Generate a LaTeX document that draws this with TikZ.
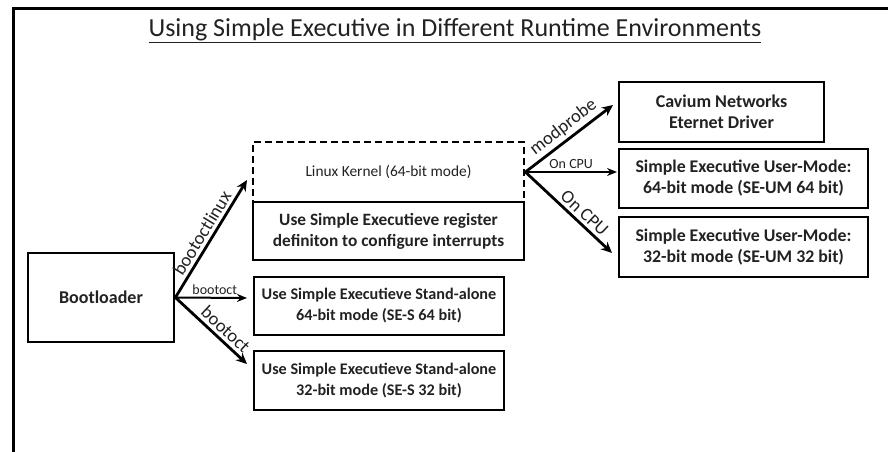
\documentclass[tikz,border=0pt]{standalone}
\usepackage{fontspec}
\setmainfont{Carlito}
\usetikzlibrary{arrows.meta}
\definecolor{ink}{HTML}{222222}
\tikzset{
  box/.style={draw=black, line width=2.8pt, inner sep=2pt, align=center, font=\fontsize{17}{21}\selectfont\bfseries, text=ink},
  conn/.style={line width=2.8pt, -{Stealth[length=11pt,width=10pt]}, black},
  thin/.style={line width=2pt, -{Stealth[length=10pt,width=8pt]}, black},
  biglab/.style={font=\fontsize{18.5}{20}\selectfont, text=ink, inner sep=3pt},
  smalllab/.style={font=\fontsize{14}{16}\selectfont, text=ink, inner sep=2.5pt}
}
\begin{document}
\begin{tikzpicture}[x=1pt,y=-1pt]
\useasboundingbox (0,0) rectangle (888,452);
\fill[white] (0,0) rectangle (888,452);
% frame
\draw[line width=2.8pt] (13.5,452) -- (13.5,8.5) -- (888,8.5);
% title
\node[font=\fontsize{26}{30}\selectfont, text=ink] (title) at (455,31) {\underline{Using Simple Executive in Different Runtime Environments}};
% boxes
\node[box, minimum width=146pt, minimum height=89pt, font=\fontsize{18}{22}\selectfont\bfseries] (boot) at (101,297.5) {Bootloader};
\node[box, dashed, dash pattern=on 7pt off 4pt, minimum width=271pt, minimum height=60pt, font=\fontsize{15.4}{18}\selectfont] (kern) at (388.5,172) {Linux Kernel (64-bit mode)};
\node[box, minimum width=271pt, minimum height=58pt, font=\fontsize{17.3}{21}\selectfont\bfseries] (reg) at (388.5,231) {Use Simple Executieve register\\definiton to configure interrupts};
\node[box, minimum width=250pt, minimum height=58pt, font=\fontsize{16.2}{21}\selectfont\bfseries] (ses64) at (379,306) {Use Simple Executieve Stand-alone\\64-bit mode (SE-S 64 bit)};
\node[box, minimum width=250pt, minimum height=59pt, font=\fontsize{16.2}{21}\selectfont\bfseries] (ses32) at (379,380.5) {Use Simple Executieve Stand-alone\\32-bit mode (SE-S 32 bit)};
\node[box, minimum width=205pt, minimum height=60pt, font=\fontsize{18}{21}\selectfont\bfseries] (cav) at (721.5,112) {Cavium Networks\\Eternet Driver};
\node[box, minimum width=249pt, minimum height=59pt, font=\fontsize{17.8}{21}\selectfont\bfseries] (um64) at (743.5,178.5) {Simple Executive User-Mode:\\64-bit mode (SE-UM 64 bit)};
\node[box, minimum width=249pt, minimum height=60pt, font=\fontsize{17.8}{21}\selectfont\bfseries] (um32) at (743.5,247) {Simple Executive User-Mode:\\32-bit mode (SE-UM 32 bit)};
% arrow ends
\coordinate (eLinux) at (247,180);
\coordinate (eS64) at (247,298);
\coordinate (eS32) at (247,364);
\coordinate (eCav) at (613,105);
\coordinate (eU64) at (617,172);
\coordinate (eU32) at (612,253);
% connectors
\draw[conn] (boot.east) -- node[biglab, sloped, above, pos=0.5] {bootoctlinux} (eLinux);
\draw[thin] (boot.east) -- node[smalllab, above, pos=0.55] {bootoct} (eS64);
\draw[conn] (boot.east) -- node[biglab, sloped, above, pos=0.6] {bootoct} (eS32);
\draw[conn] (kern.east) -- node[biglab, sloped, above, pos=0.52] {modprobe} (eCav);
\draw[thin] (kern.east) -- node[smalllab, above, pos=0.5] {On CPU} (eU64);
\draw[conn] (kern.east) -- node[biglab, sloped, above, pos=0.6] {On CPU} (eU32);
\end{tikzpicture}
\end{document}
